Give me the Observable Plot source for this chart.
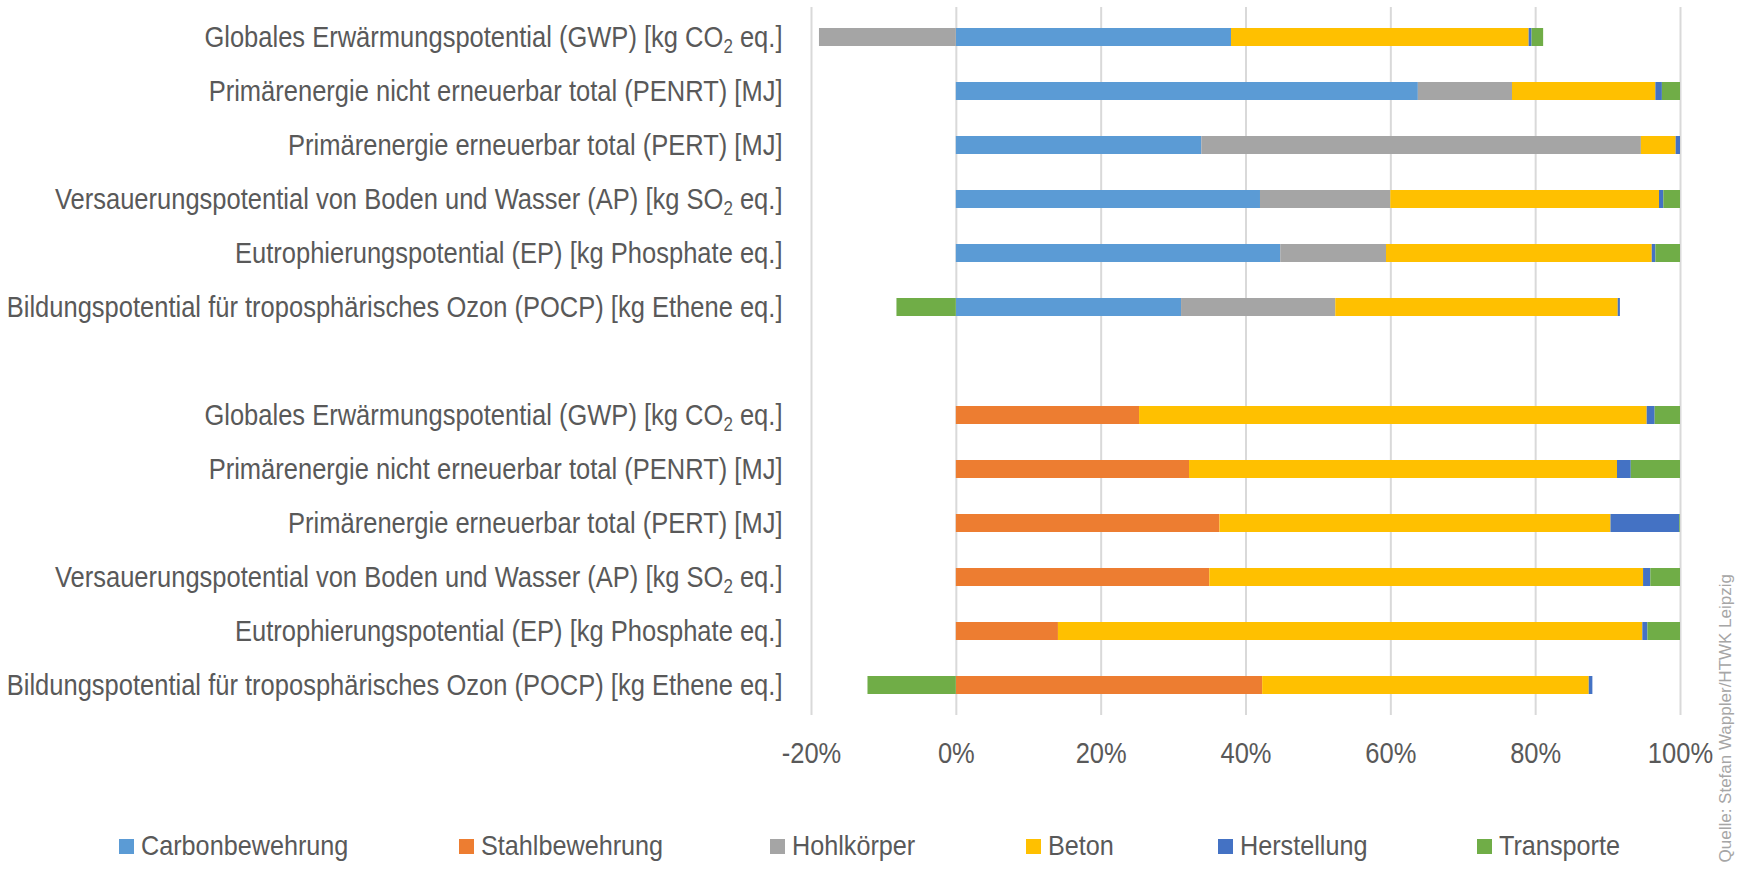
<!DOCTYPE html>
<html><head><meta charset="utf-8">
<script src="https://cdn.jsdelivr.net/npm/d3@7"></script>
<script src="https://cdn.jsdelivr.net/npm/@observablehq/plot@0.6"></script>
<style>
body{margin:0;background:#fff;}
#wrap{position:relative;width:1739px;height:876px;overflow:hidden;background:#fff;font-family:"Liberation Sans",Arial,sans-serif;}
#legend .item{position:absolute;display:flex;align-items:center;font-size:28px;color:#595959;white-space:nowrap;}
#legend .sw{width:15px;height:15px;margin-right:7px;flex:none;}
#legend .lt{display:inline-block;transform:scaleX(0.9);transform-origin:0 50%;}
#source{position:absolute;left:1716px;bottom:14px;writing-mode:vertical-rl;transform:rotate(180deg);font-family:"Liberation Sans",Arial,sans-serif;font-size:17px;color:#a6a6a6;white-space:nowrap;}
</style></head><body>
<div id="wrap"></div>
<script>
// Row labels (same six indicators for each group)
const indicatorLabels = [
  "Globales Erwärmungspotential (GWP) [kg CO₂ eq.]",
  "Primärenergie nicht erneuerbar total (PENRT) [MJ]",
  "Primärenergie erneuerbar total (PERT) [MJ]",
  "Versauerungspotential von Boden und Wasser (AP) [kg SO₂ eq.]",
  "Eutrophierungspotential (EP) [kg Phosphate eq.]",
  "Bildungspotential für troposphärisches Ozon (POCP) [kg Ethene eq.]"
];
const groups = ["carbon", "stahl"];
const series = ["Carbonbewehrung", "Stahlbewehrung", "Hohlkörper", "Beton", "Herstellung", "Transporte"];
const colors = ["#5B9BD5", "#ED7D31", "#A5A5A5", "#FFC000", "#4472C4", "#70AD47"];
// Shares in %, rows 1-6 = carbon variant, rows 7-12 = steel variant
const carbonbewehrung = [38.0, 63.8, 33.9, 42.0, 44.8, 31.1,   0, 0, 0, 0, 0, 0];
const stahlbewehrung  = [0, 0, 0, 0, 0, 0,   25.3, 32.2, 36.4, 35.0, 14.1, 42.3];
const hohlkoerper     = [-18.9, 13.0, 60.7, 18.0, 14.6, 21.3,   0, 0, 0, 0, 0, 0];
const beton           = [41.1, 19.8, 4.8, 37.1, 36.7, 39.0,   70.1, 59.1, 54.0, 59.9, 80.7, 45.1];
const herstellung     = [0.4, 0.9, 0.6, 0.6, 0.5, 0.3,   1.1, 1.9, 9.5, 1.0, 0.7, 0.5];
const transporte      = [1.6, 2.5, 0, 2.3, 3.4, -8.2,   3.5, 6.8, 0.1, 4.1, 4.5, -12.2];
const xTicks = [-20, 0, 20, 40, 60, 80, 100];

const seriesValues = [carbonbewehrung, stahlbewehrung, hohlkoerper, beton, herstellung, transporte];
const rowKeys = [];
groups.forEach(g => indicatorLabels.forEach((l, i) => rowKeys.push(g + i)));
const yDomain = [...rowKeys.slice(0, 6), "gap", ...rowKeys.slice(6)];
const labelOf = k => k === "gap" ? "" : indicatorLabels[+k.slice(-1)];

const data = [];
rowKeys.forEach((k, r) => {
  series.forEach((s, j) => {
    const v = seriesValues[j][r];
    if (v !== 0) data.push({row: k, series: s, value: v});
  });
});

const chart = Plot.plot({
  width: 1739,
  height: 800,
  marginLeft: 811,
  marginRight: 59,
  marginTop: 7,
  marginBottom: 85,
  style: {fontFamily: '"Liberation Sans",Arial,sans-serif', color: "#595959", background: "#fff"},
  x: {domain: [-20, 100]},
  y: {domain: yDomain, paddingInner: 0.66, paddingOuter: 0.33},
  color: {domain: series, range: colors},
  marks: [
    Plot.gridX(xTicks, {stroke: "#d9d9d9", strokeOpacity: 1, strokeWidth: 2}),
    Plot.barX(data, Plot.stackX({y: "row", x: "value", fill: "series"})),
    Plot.axisX({ticks: xTicks, tickFormat: d => `${d}%`, tickSize: 0, tickPadding: 26, fontSize: 30, label: null}),
    Plot.axisY({tickSize: 0, tickPadding: 29, fontSize: 30, tickFormat: labelOf, label: null})
  ]
});
const wrap = document.getElementById("wrap");
wrap.appendChild(chart);

const ySel = d3.select(chart).selectAll('g[aria-label="y-axis tick label"] text');
// subscript handling for CO₂ / SO₂
ySel.each(function() {
  const t = this.textContent;
  if (!t.includes("₂")) return;
  const [a, b] = t.split("₂");
  const el = d3.select(this);
  el.text(null);
  el.append("tspan").text(a);
  el.append("tspan").attr("font-size", "20px").attr("dy", "6px").text("2");
  el.append("tspan").attr("dy", "-6px").text(b);
});

// condensed look: horizontal squeeze so the longest label fits the label column
let maxW = 0;
ySel.each(function() { maxW = Math.max(maxW, this.getComputedTextLength()); });
const f = maxW > 0 ? Math.min(1, 776 / maxW) : 0.8;
function squeeze(el) {
  const tr = el.getAttribute("transform");
  if (tr) el.setAttribute("transform", tr + ` scale(${f},1)`);
  else {
    const x = +el.getAttribute("x") || 0;
    el.setAttribute("transform", `translate(${x},0) scale(${f},1) translate(${-x},0)`);
  }
}
ySel.each(function() { squeeze(this); });
d3.select(chart).selectAll('g[aria-label="x-axis tick label"] text').each(function() { squeeze(this); });

// legend
const legend = d3.select(wrap).append("div").attr("id", "legend");
const legendX = [119, 459, 770, 1026, 1218, 1477];
series.forEach((s, i) => {
  const it = legend.append("div").attr("class", "item")
    .style("left", legendX[i] + "px").style("top", "829px").style("height", "34px");
  it.append("div").attr("class", "sw").style("background", colors[i]);
  it.append("span").attr("class", "lt").text(s);
});
d3.select(wrap).append("div").attr("id", "source").text("Quelle: Stefan Wappler/HTWK Leipzig");
</script>
</body></html>
